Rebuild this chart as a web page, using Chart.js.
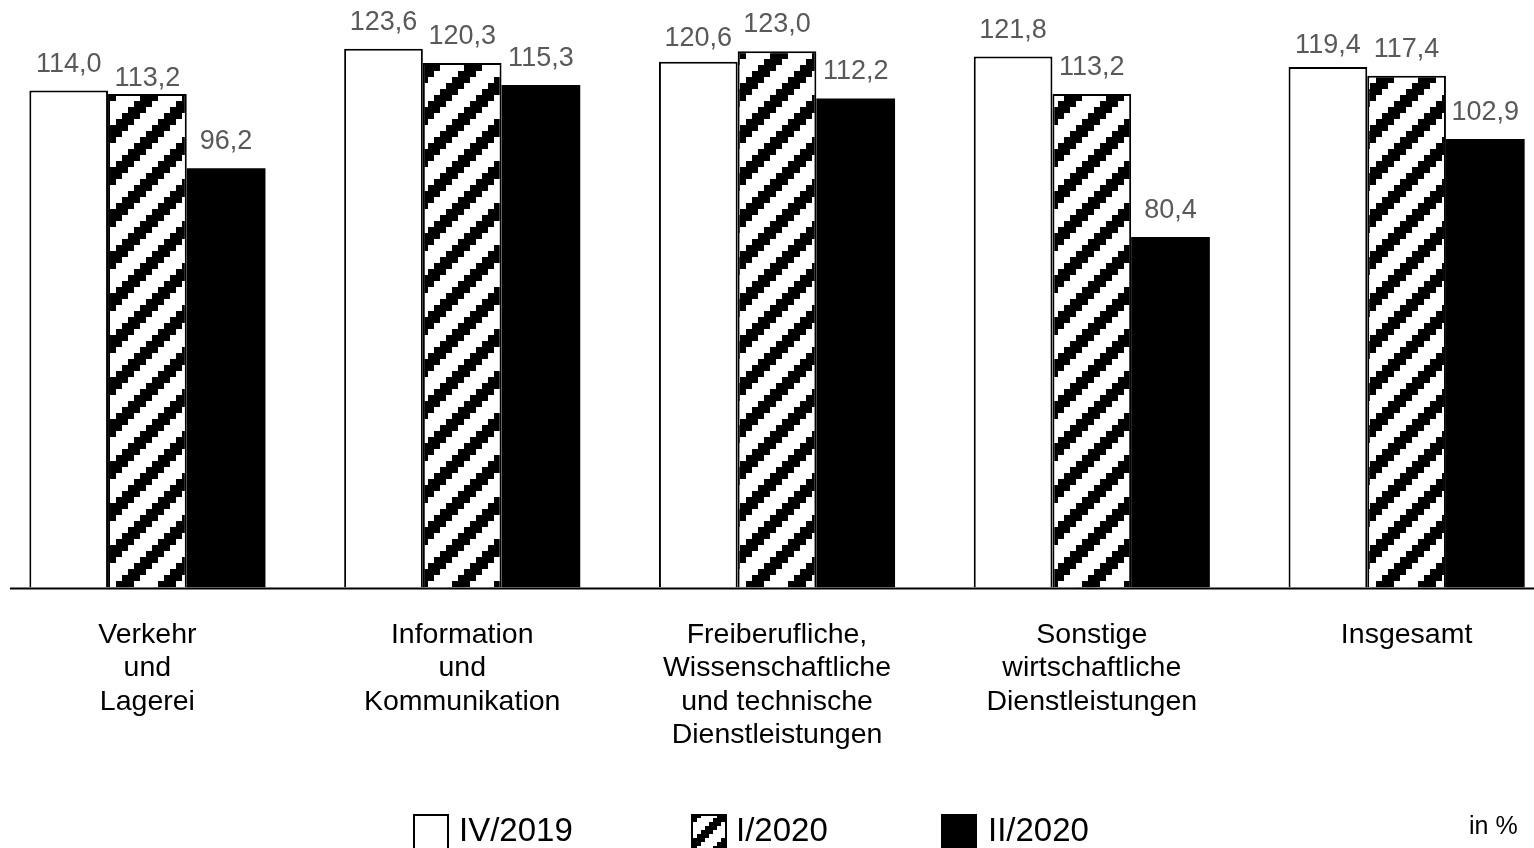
<!DOCTYPE html>
<html>
<head>
<meta charset="utf-8">
<script src="https://cdn.jsdelivr.net/npm/chart.js@4.4.1/dist/chart.umd.min.js"></script>
<style>
  html, body { margin: 0; padding: 0; background: #fff; overflow: hidden; width: 1534px; height: 848px; }
  #wrap { position: absolute; left: -10px; top: -1px; width: 1574px; height: 849px; }
  canvas#c { position: absolute; left: 0; top: 0; }
  .lg { position: absolute; font-family: "Liberation Sans", Arial, sans-serif; font-size: 33px; color: #000; line-height: 1; }
  .sw { position: absolute; box-sizing: border-box; width: 36px; height: 40px; top: 814px; }
</style>
</head>
<body>
<div id="wrap"><canvas id="c" width="1574" height="849"></canvas></div>
<div class="sw" id="sw0" style="left:413px; border:2px solid #000; background:#fff;"></div>
<div class="lg" id="lg0" style="left:459px; top:813px;"></div>
<div class="sw" id="sw1" style="left:691px; border:2px solid #000;"></div>
<div class="lg" id="lg1" style="left:736px; top:813px;"></div>
<div class="sw" id="sw2" style="left:941px; background:#000;"></div>
<div class="lg" id="lg2" style="left:988px; top:813px;"></div>
<div class="lg" style="left:1469px; top:813px; font-size:25px;">in %</div>
<script>
// ---- data ----
const categories = [
  ["Verkehr", "und", "Lagerei"],
  ["Information", "und", "Kommunikation"],
  ["Freiberufliche,", "Wissenschaftliche", "und technische", "Dienstleistungen"],
  ["Sonstige", "wirtschaftliche", "Dienstleistungen"],
  ["Insgesamt"]
];
const seriesNames = ["IV/2019", "I/2020", "II/2020"];
const valuesIV2019 = [114.0, 123.6, 120.6, 121.8, 119.4];
const valuesI2020  = [113.2, 120.3, 123.0, 113.2, 117.4];
const valuesII2020 = [96.2, 115.3, 112.2, 80.4, 102.9];

// ---- hatch pattern (wide upward diagonal, pixelated) ----
function makeHatch() {
  const cell = 6, n = 7;
  const pc = document.createElement('canvas');
  pc.width = cell * n; pc.height = cell * n;
  const g = pc.getContext('2d');
  g.fillStyle = '#fff'; g.fillRect(0, 0, pc.width, pc.height);
  g.fillStyle = '#000';
  for (let r = 0; r < n; r++) {
    for (let k = 0; k < 3; k++) {
      const x = ((n - 1 - r + k) % n + n) % n;
      g.fillRect(x * cell, r * cell, cell, cell);
    }
  }
  return pc;
}
const hatchCanvas = makeHatch();
const ctx = document.getElementById('c').getContext('2d');
const hatch = ctx.createPattern(hatchCanvas, 'repeat');

// legend
document.getElementById('lg0').textContent = seriesNames[0];
document.getElementById('lg1').textContent = seriesNames[1];
document.getElementById('lg2').textContent = seriesNames[2];
document.getElementById('sw1').style.background = 'url(' + hatchCanvas.toDataURL() + ') repeat';
document.getElementById('sw1').style.backgroundSize = '28px 28px';
document.getElementById('sw1').style.backgroundPosition = '-4px 2px';

const FONT = '"Liberation Sans", Arial, sans-serif';

const valueLabels = {
  id: 'valueLabels',
  afterDatasetsDraw(chart, args, opts) {
    const c = chart.ctx;
    c.save();
    c.font = '27px ' + FONT;
    c.fillStyle = '#595959';
    c.textAlign = 'center';
    c.textBaseline = 'alphabetic';
    chart.data.datasets.forEach((ds, di) => {
      const meta = chart.getDatasetMeta(di);
      meta.data.forEach((el, i) => {
        const v = ds.data[i];
        const key = di + ':' + i;
        const dy = (opts.shift && opts.shift[key]) || 0;
        c.fillText(v.toFixed(1).replace('.', ','), el.x, el.y - 19 + dy);
      });
    });
    c.restore();
  }
};

const baseLine = {
  id: 'baseLine',
  afterDraw(chart) {
    const c = chart.ctx;
    const y = chart.scales.y.getPixelForValue(0) + 1;
    c.save();
    c.strokeStyle = '#000';
    c.lineWidth = 2;
    c.beginPath();
    c.moveTo(20, y);
    c.lineTo(chart.width, y);
    c.stroke();
    c.restore();
  }
};

new Chart(ctx, {
  type: 'bar',
  data: {
    labels: categories,
    datasets: [
      { label: seriesNames[0], data: valuesIV2019, backgroundColor: '#fff', borderColor: '#000', borderWidth: 2 },
      { label: seriesNames[1], data: valuesI2020, backgroundColor: hatch, borderColor: '#000', borderWidth: 2 },
      { label: seriesNames[2], data: valuesII2020, backgroundColor: '#000', borderColor: '#000', borderWidth: 0 }
    ]
  },
  options: {
    responsive: false,
    animation: false,
    devicePixelRatio: 1,
    layout: { padding: 0 },
    datasets: { bar: { categoryPercentage: 0.75, barPercentage: 1.0 } },
    plugins: {
      legend: { display: false },
      tooltip: { enabled: false },
      valueLabels: { shift: { '1:0': 11, '0:4': 5, '0:2': 3 } }
    },
    scales: {
      x: {
        grid: { display: false, drawTicks: false },
        border: { display: false },
        afterFit(scale) { scale.height = 260.5; },
        ticks: {
          autoSkip: false, maxRotation: 0, minRotation: 0, padding: 31,
          color: '#000',
          font: { family: FONT, size: 28.5, lineHeight: 1.168 }
        }
      },
      y: {
        display: false,
        min: 0, max: 135
      }
    }
  },
  plugins: [valueLabels, baseLine]
});
</script>
</body>
</html>
